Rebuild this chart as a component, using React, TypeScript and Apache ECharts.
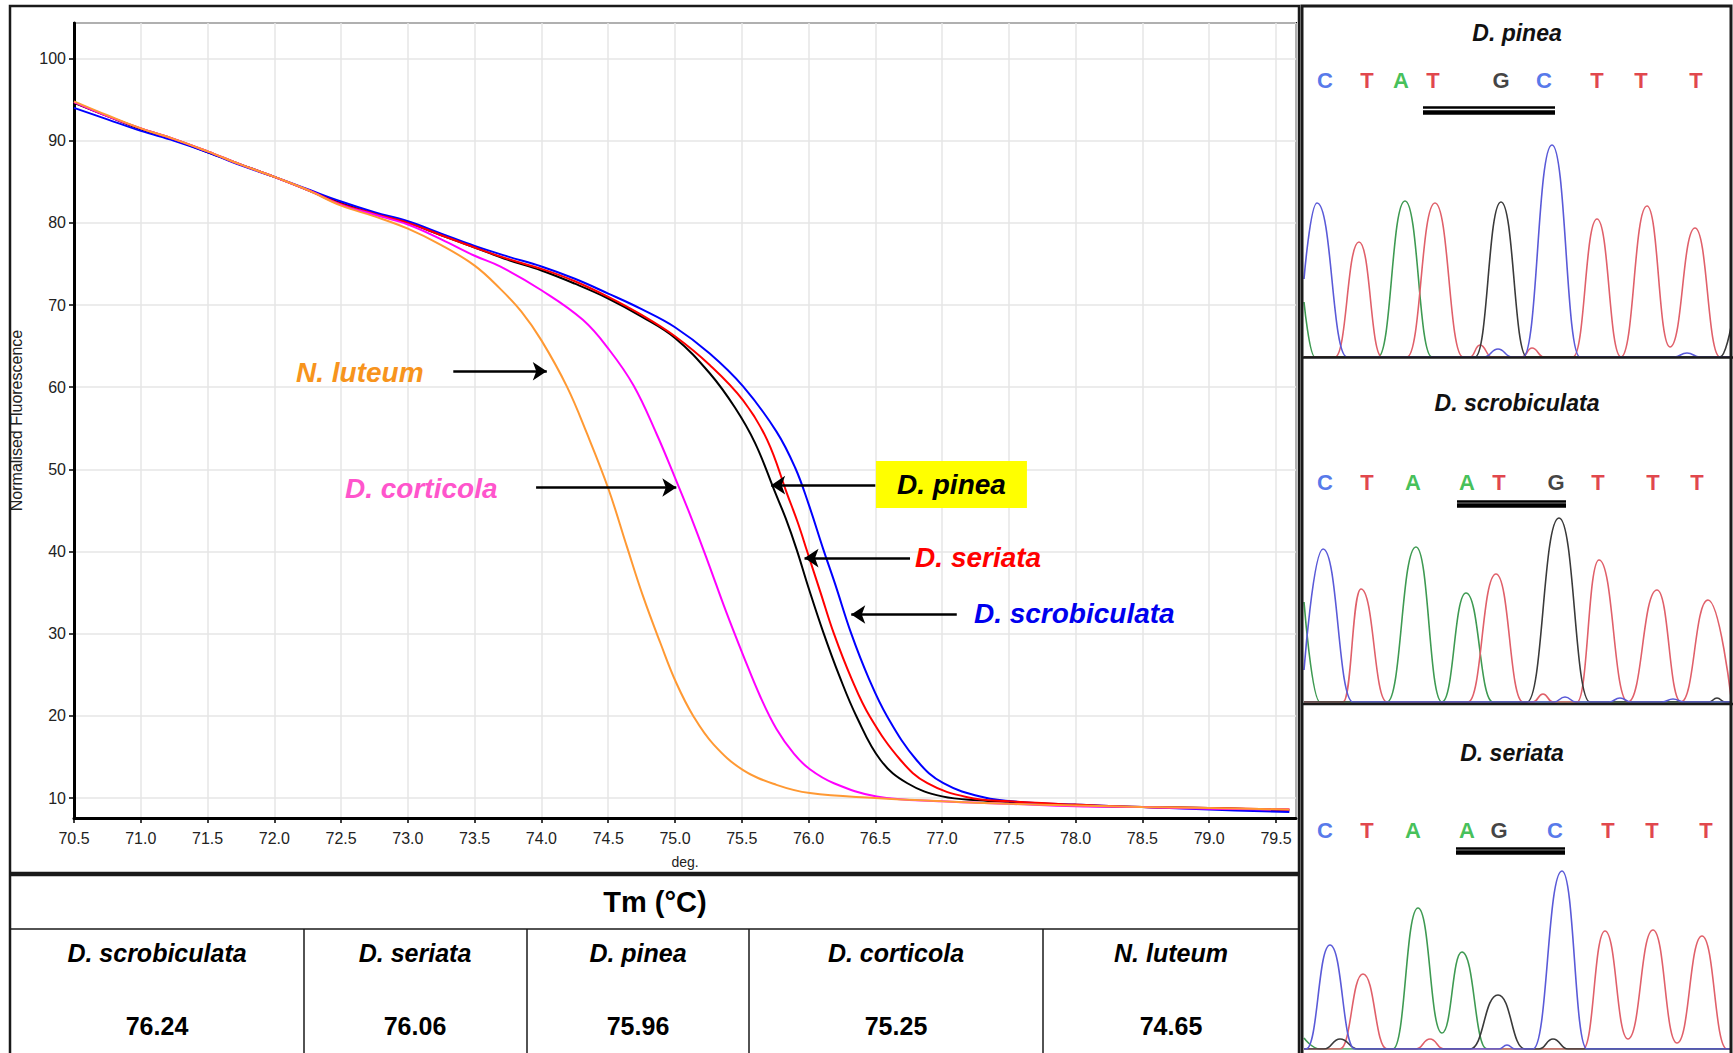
import React, { useEffect, useRef } from "react";
import * as echarts from "echarts";

const FONT = '"Liberation Sans", Arial, Helvetica, sans-serif';

// ---------- Melt curves: [temperature (deg), normalised fluorescence] ----------
const dScrobiculata: number[][] = [
  [70.5, 94.0], [70.75, 92.6], [71.0, 91.2], [71.25, 90.0], [71.5, 88.6], [71.75, 87.0], [72.0, 85.6],
  [72.25, 84.1], [72.5, 82.6], [72.75, 81.3], [73.0, 80.2], [73.25, 78.7], [73.5, 77.2], [73.75, 75.9],
  [74.0, 74.7], [74.25, 73.2], [74.5, 71.4], [74.75, 69.5], [75.0, 67.3], [75.26, 64.1], [75.51, 60.1],
  [75.76, 54.6], [75.9, 50.2], [76.0, 45.8], [76.11, 40.3], [76.2, 36.0], [76.32, 30.0], [76.45, 24.6],
  [76.59, 19.9], [76.81, 14.6], [77.01, 11.8], [77.31, 10.1], [77.6, 9.5], [78.0, 9.2], [78.5, 8.9],
  [79.0, 8.6], [79.6, 8.3],
];
const dSeriata: number[][] = [
  [70.5, 94.7], [70.75, 93.0], [71.0, 91.5], [71.25, 90.2], [71.5, 88.7], [71.75, 87.1], [72.0, 85.6],
  [72.25, 84.0], [72.5, 82.3], [72.75, 81.1], [73.0, 80.0], [73.25, 78.5], [73.5, 77.0], [73.75, 75.6],
  [74.0, 74.4], [74.25, 72.9], [74.5, 71.0], [74.75, 68.8], [75.0, 66.2], [75.26, 62.7], [75.51, 58.4],
  [75.69, 53.6], [75.84, 47.0], [75.92, 43.5], [75.99, 40.0], [76.09, 35.0], [76.19, 30.0], [76.32, 24.6],
  [76.46, 19.9], [76.69, 14.6], [76.89, 11.8], [77.19, 10.1], [77.5, 9.6], [78.0, 9.2], [78.5, 8.9],
  [79.0, 8.8], [79.6, 8.6],
];
const dPinea: number[][] = [
  [70.5, 94.6], [70.75, 93.0], [71.0, 91.4], [71.25, 90.1], [71.5, 88.6], [71.75, 87.1], [72.0, 85.6],
  [72.25, 84.0], [72.5, 82.4], [72.75, 81.1], [73.0, 80.0], [73.25, 78.5], [73.5, 77.0], [73.75, 75.5],
  [74.0, 74.2], [74.25, 72.6], [74.5, 70.8], [74.75, 68.6], [75.0, 66.0], [75.26, 61.7], [75.45, 57.5],
  [75.6, 53.2], [75.75, 47.2], [75.83, 44.0], [75.91, 40.3], [76.0, 35.6], [76.11, 30.2], [76.23, 24.9],
  [76.36, 19.9], [76.54, 14.6], [76.74, 11.8], [77.0, 10.2], [77.31, 9.7], [77.5, 9.5], [78.0, 9.1],
  [78.5, 8.9], [79.0, 8.8], [79.6, 8.5],
];
const dCorticola: number[][] = [
  [70.5, 94.7], [70.75, 93.0], [71.0, 91.5], [71.25, 90.2], [71.5, 88.7], [71.75, 87.1], [72.0, 85.6],
  [72.25, 84.0], [72.5, 82.2], [72.75, 81.0], [73.0, 79.8], [73.25, 78.0], [73.5, 76.0], [73.69, 74.7],
  [74.0, 71.8], [74.31, 68.2], [74.51, 64.5], [74.69, 60.2], [74.86, 54.4], [75.0, 49.0], [75.12, 44.2],
  [75.25, 38.6], [75.38, 32.8], [75.51, 27.4], [75.64, 22.3], [75.76, 18.4], [75.89, 15.4], [76.01, 13.5],
  [76.19, 11.8], [76.51, 10.2], [77.0, 9.6], [77.5, 9.3], [78.0, 9.0], [78.5, 8.9], [79.0, 8.7], [79.6, 8.6],
];
const nLuteum: number[][] = [
  [70.5, 94.8], [70.75, 93.1], [71.0, 91.5], [71.25, 90.2], [71.5, 88.7], [71.75, 87.1], [72.0, 85.6],
  [72.25, 84.0], [72.5, 82.1], [72.75, 80.8], [73.0, 79.3], [73.25, 77.3], [73.5, 74.8], [73.69, 72.0],
  [73.85, 69.2], [74.0, 65.7], [74.19, 60.1], [74.34, 54.4], [74.5, 47.7], [74.64, 40.6], [74.76, 34.6],
  [74.89, 28.9], [75.01, 24.0], [75.14, 19.9], [75.29, 16.5], [75.51, 13.4], [75.76, 11.6], [76.01, 10.6],
  [76.5, 10.0], [77.0, 9.6], [77.5, 9.3], [78.0, 9.1], [78.5, 8.9], [79.0, 8.8], [79.6, 8.6],
];

// ---------- Tm table ----------
const tmSpecies = ["D. scrobiculata", "D. seriata", "D. pinea", "D. corticola", "N. luteum"];
const tmValues = ["76.24", "76.06", "75.96", "75.25", "74.65"];

// ---------- Chromatograms: [scan position, signal] ----------
const pineaC = [[0, 78], [13, 154], [43, 0], [180, 0], [194, 8], [208, 0], [219, 0], [248, 212], [276, 0], [370, 0], [383, 4], [396, 0], [427, 0]];
const pineaT = [[0, 0], [31, 0], [55, 115], [78, 0], [103, 0], [131, 154], [159, 0], [166, 0], [176, 12], [188, 0], [218, 0], [228, 9], [240, 0], [269, 0], [293, 138], [317, 0], [343, 151], [366, 10], [391, 129], [416, 0], [427, 0]];
const pineaA = [[0, 55], [11, 0], [74, 0], [101, 156], [128, 0], [427, 0]];
const pineaG = [[0, 0], [171, 0], [197, 155], [223, 0], [416, 0], [427, 30]];
const pineaBases = ["C", "T", "A", "T", "G", "C", "T", "T", "T"];
const pineaBasePos = [21, 63, 97, 129, 197, 240, 293, 337, 392];

const scrobC = [[0, 32], [19, 153], [49, 0], [250, 0], [261, 5], [272, 0], [305, 0], [316, 4], [327, 0], [358, 0], [369, 3], [380, 0], [427, 0]];
const scrobT = [[0, 0], [39, 0], [57, 113], [83, 0], [164, 0], [192, 128], [219, 0], [229, 0], [239, 8], [249, 0], [273, 0], [295, 142], [324, 0], [353, 112], [377, 0], [404, 102], [427, 5]];
const scrobA = [[0, 100], [16, 0], [83, 0], [112, 155], [138, 0], [162, 109], [189, 0], [427, 0]];
const scrobG = [[0, 0], [223, 0], [255, 184], [286, 0], [405, 0], [413, 4], [421, 0], [427, 0]];
const scrobBases = ["C", "T", "A", "A", "T", "G", "T", "T", "T"];
const scrobBasePos = [21, 63, 109, 163, 195, 252, 294, 349, 393];

const seriataC = [[0, 0], [2, 0], [26, 104], [51, 0], [195, 0], [203, 4], [211, 0], [229, 0], [258, 178], [283, 0], [427, 0]];
const seriataT = [[0, 0], [36, 0], [59, 75], [83, 0], [112, 0], [126, 10], [140, 0], [279, 0], [301, 118], [324, 10], [349, 119], [373, 6], [398, 113], [423, 0], [427, 0]];
const seriataA = [[0, 11], [16, 0], [89, 0], [114, 141], [138, 16], [158, 97], [183, 0], [427, 0]];
const seriataG = [[0, 0], [20, 0], [36, 10], [54, 0], [166, 0], [194, 54], [221, 0], [235, 0], [249, 10], [264, 0], [427, 0]];
const seriataBases = ["C", "T", "A", "A", "G", "C", "T", "T", "T"];
const seriataBasePos = [21, 63, 109, 163, 195, 251, 304, 348, 402];

const baseColor: Record<string, string> = { A: "#14b02e", C: "#2a55e5", G: "#111111", T: "#d9141c" };
const traceColor: Record<string, string> = { A: "#3e9a52", C: "#5a5ad8", G: "#3a3a3a", T: "#e0606a" };

function buildOption() {
  const mainLine = (name: string, data: number[][], color: string, extra: any = {}) => ({
    name,
    type: "line",
    xAxisIndex: 0,
    yAxisIndex: 0,
    data,
    smooth: 0.4,
    symbol: "none",
    silent: true,
    lineStyle: { color, width: 2 },
    ...extra,
  });

  const arrowLine = (tail: number[], tip: number[]) => ({
    silent: true,
    symbol: ["none", "arrow"],
    symbolSize: 14,
    label: { show: false },
    lineStyle: { color: "#000", width: 2.5, type: "solid" },
    data: [[{ coord: tail }, { coord: tip }]],
  });
  const tag = (text: string, coord: number[], color: string, box?: { size: number[]; fill: string }) => ({
    silent: true,
    data: [
      {
        name: text,
        coord,
        symbol: "rect",
        symbolSize: box ? box.size : [1, 1],
        itemStyle: { color: box ? box.fill : "rgba(0,0,0,0)" },
        label: {
          show: true,
          position: "inside",
          formatter: text,
          color,
          fontSize: 28,
          fontStyle: "italic",
          fontWeight: "bold",
          fontFamily: FONT,
        },
      },
    ],
  });

  const trace = (grid: number, data: number[][], base: string) => ({
    type: "line",
    xAxisIndex: grid,
    yAxisIndex: grid,
    data,
    smooth: 0.5,
    smoothMonotone: "x",
    symbol: "none",
    silent: true,
    lineStyle: { color: traceColor[base], width: 1.6 },
  });
  const letters = (grid: number, bases: string[], pos: number[], h: number, ul: number[], ulH: number[]) => ({
    type: "scatter",
    xAxisIndex: grid,
    yAxisIndex: grid,
    symbolSize: 1,
    silent: true,
    itemStyle: { color: "rgba(0,0,0,0)" },
    label: {
      show: true,
      position: "inside",
      formatter: "{b}",
      fontSize: 22,
      fontWeight: "bold",
      fontFamily: FONT,
    },
    data: bases.map((b, i) => ({ name: b, value: [pos[i], h], label: { color: baseColor[b] } })),
    markLine: {
      silent: true,
      symbol: ["none", "none"],
      label: { show: false },
      data: [
        [{ coord: [ul[0], ulH[0]], lineStyle: { color: "#000", width: 2.5, type: "solid" } }, { coord: [ul[1], ulH[0]] }],
        [{ coord: [ul[0], ulH[1]], lineStyle: { color: "#000", width: 4.5, type: "solid" } }, { coord: [ul[1], ulH[1]] }],
      ],
    },
  });

  const chromAxisX = (i: number) => ({ gridIndex: i, type: "value", min: 0, max: 427, show: false });
  const chromAxisY = (i: number) => ({ gridIndex: i, type: "value", min: 0, max: 340, show: false });

  const txt = (text: string, x: number, y: number, size: number, weight: string, style: string, fill = "#000") => ({
    type: "text",
    x,
    y,
    z: 10,
    silent: true,
    style: {
      text,
      fill,
      fontSize: size,
      fontWeight: weight,
      fontStyle: style,
      fontFamily: FONT,
      textAlign: "center",
      align: "center",
      textVerticalAlign: "middle",
      verticalAlign: "middle",
    },
  });
  const ln = (x1: number, y1: number, x2: number, y2: number, w: number, color = "#1a1a1a") => ({
    type: "line",
    z: 5,
    silent: true,
    shape: { x1, y1, x2, y2 },
    style: { stroke: color, lineWidth: w },
  });

  const colSep = [304, 527, 749, 1043];
  const colCenters = [157, 415, 638, 896, 1171];

  const graphic: any[] = [
    { type: "rect", z: 5, silent: true, shape: { x: 10, y: 6, width: 1289, height: 1060 }, style: { fill: "none", stroke: "#1a1a1a", lineWidth: 2.5 } },
    ln(10, 874, 1299, 874, 4.5),
    ln(10, 929, 1299, 929, 1.5),
    ...colSep.map((x) => ln(x, 929, x, 1053, 1.5)),
    txt("Tm (°C)", 655, 902, 29, "bold", "normal"),
    ...tmSpecies.map((s, i) => txt(s, colCenters[i], 953, 25, "bold", "italic")),
    ...tmValues.map((v, i) => txt(v, colCenters[i], 1026, 25, "bold", "normal")),
    { type: "rect", z: 5, silent: true, shape: { x: 1302, y: 6, width: 429, height: 1060 }, style: { fill: "none", stroke: "#1a1a1a", lineWidth: 3 } },
    ln(1302, 357.5, 1733, 357.5, 2.5),
    ln(1302, 704, 1733, 704, 2.5),
    txt("D. pinea", 1517, 33, 23, "bold", "italic", "#111"),
    txt("D. scrobiculata", 1517, 403, 23, "bold", "italic", "#111"),
    txt("D. seriata", 1512, 753, 23, "bold", "italic", "#111"),
  ];

  return {
    animation: false,
    backgroundColor: "#ffffff",
    textStyle: { fontFamily: FONT },
    grid: [
      { left: 74, top: 23, width: 1222, height: 795, show: true, borderColor: "#111", borderWidth: 2, backgroundColor: "rgba(0,0,0,0)" },
      { left: 1304, top: 17, width: 427, height: 340 },
      { left: 1304, top: 362, width: 427, height: 340 },
      { left: 1304, top: 709, width: 427, height: 340 },
    ],
    xAxis: [
      {
        gridIndex: 0,
        type: "value",
        min: 70.5,
        max: 79.65,
        interval: 0.5,
        name: "deg.",
        nameLocation: "middle",
        nameGap: 37,
        nameTextStyle: { fontSize: 14, color: "#222", fontFamily: FONT },
        axisLine: { show: true, onZero: false, lineStyle: { color: "#000", width: 3 } },
        axisTick: { show: true, length: 5, lineStyle: { color: "#000", width: 1.5 } },
        axisLabel: {
          fontSize: 16,
          color: "#222",
          margin: 12,
          fontFamily: FONT,
          showMaxLabel: false,
          formatter: (v: number) => (Math.abs(v * 2 - Math.round(v * 2)) < 1e-6 ? v.toFixed(1) : ""),
        },
        splitLine: { show: true, lineStyle: { color: "#e6e6e6", width: 1.5 } },
      },
      chromAxisX(1),
      chromAxisX(2),
      chromAxisX(3),
    ],
    yAxis: [
      {
        gridIndex: 0,
        type: "value",
        min: 7.57,
        max: 104.33,
        splitNumber: 10,
        minInterval: 10,
        maxInterval: 10,
        name: "Normalised Fluorescence",
        nameLocation: "middle",
        nameGap: 50,
        nameRotate: 90,
        nameTextStyle: { fontSize: 16, color: "#222", fontFamily: FONT },
        axisLine: { show: true, onZero: false, lineStyle: { color: "#000", width: 3 } },
        axisTick: { show: true, length: 5, lineStyle: { color: "#000", width: 1.5 } },
        axisLabel: {
          fontSize: 16,
          color: "#222",
          margin: 8,
          fontFamily: FONT,
          showMinLabel: false,
          showMaxLabel: false,
          formatter: (v: number) => (Math.abs(v / 10 - Math.round(v / 10)) < 1e-6 ? String(Math.round(v)) : ""),
        },
        splitLine: { show: true, lineStyle: { color: "#e6e6e6", width: 1.5 } },
      },
      chromAxisY(1),
      chromAxisY(2),
      chromAxisY(3),
    ],
    series: [
      mainLine("D. pinea", dPinea, "#000000", {
        markLine: arrowLine([76.5, 48.08], [75.72, 48.08]),
        markPoint: tag("D. pinea", [77.07, 48.16], "#000", { size: [151, 47], fill: "#ffff00" }),
      }),
      mainLine("D. scrobiculata", dScrobiculata, "#0000ff", {
        markLine: arrowLine([77.11, 32.34], [76.32, 32.34]),
        markPoint: tag("D. scrobiculata", [77.99, 32.47], "#0000ee"),
      }),
      mainLine("D. seriata", dSeriata, "#ff0000", {
        markLine: arrowLine([76.76, 39.2], [75.97, 39.2]),
        markPoint: tag("D. seriata", [77.27, 39.22], "#ff0000"),
      }),
      mainLine("D. corticola", dCorticola, "#ff00ff", {
        markLine: arrowLine([73.96, 47.8], [75.01, 47.8]),
        markPoint: tag("D. corticola", [73.1, 47.67], "#ff55cc"),
      }),
      mainLine("N. luteum", nLuteum, "#ff9933", {
        markLine: arrowLine([73.34, 61.94], [74.04, 61.94]),
        markPoint: tag("N. luteum", [72.64, 61.8], "#f7941d"),
      }),

      trace(1, pineaA, "A"),
      trace(1, pineaT, "T"),
      trace(1, pineaG, "G"),
      trace(1, pineaC, "C"),
      letters(1, pineaBases, pineaBasePos, 277, [119, 251], [250, 244.5]),

      trace(2, scrobA, "A"),
      trace(2, scrobT, "T"),
      trace(2, scrobG, "G"),
      trace(2, scrobC, "C"),
      letters(2, scrobBases, scrobBasePos, 220, [153, 262], [201, 197]),

      trace(3, seriataA, "A"),
      trace(3, seriataT, "T"),
      trace(3, seriataG, "G"),
      trace(3, seriataC, "C"),
      letters(3, seriataBases, seriataBasePos, 219, [152, 261], [201, 197]),
    ],
    graphic,
  };
}

export default function App() {
  const ref = useRef<HTMLDivElement>(null);
  useEffect(() => {
    if (!ref.current) return;
    const chart = echarts.init(ref.current, null, { renderer: "svg" });
    chart.setOption(buildOption() as any);
    return () => chart.dispose();
  }, []);
  return (
    <div
      ref={ref}
      style={{ position: "fixed", left: 0, top: 0, width: 1733, height: 1053, background: "#ffffff" }}
    />
  );
}
